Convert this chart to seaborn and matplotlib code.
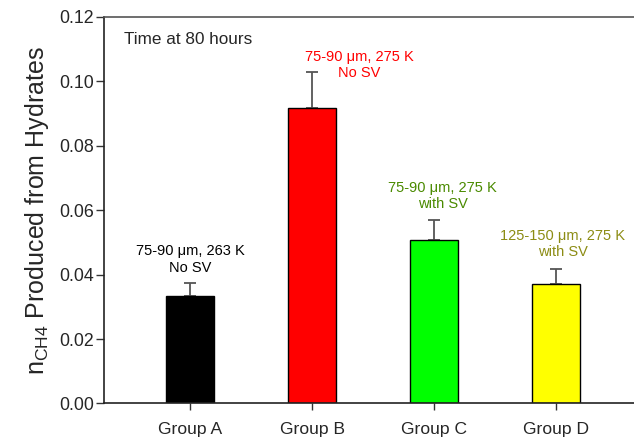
import matplotlib
matplotlib.use("Agg")
import matplotlib.pyplot as plt
import seaborn as sns
import pandas as pd

# Methane produced from hydrates after 80 hours, four experimental groups
groups = ["Group A", "Group B", "Group C", "Group D"]
n_ch4 = [0.0333, 0.0917, 0.0507, 0.0372]
err_upper = [0.0040, 0.0113, 0.0063, 0.0046]
bar_colors = ["#000000", "#FF0000", "#00FF00", "#FFFF00"]
notes = ["75-90 \u03bcm, 263 K\nNo SV",
         "75-90 \u03bcm, 275 K\nNo SV",
         "75-90 \u03bcm, 275 K\nwith SV",
         "125-150 \u03bcm, 275 K\nwith SV"]
note_colors = ["#000000", "#FF0000", "#4A8A00", "#8C8C14"]
note_x = [0.0, 1.385, 2.07, 3.053]
note_y = [0.0447, 0.1051, 0.0643, 0.0495]
y_ticks = [0.00, 0.02, 0.04, 0.06, 0.08, 0.10, 0.12]

sns.set_style("ticks")
plt.rcParams["font.family"] = ["Liberation Sans", "DejaVu Sans"]
plt.rcParams["mathtext.default"] = "regular"

df = pd.DataFrame({"group": groups, "n": n_ch4})

fig = plt.figure(figsize=(6.34, 4.37), dpi=100)
ax = fig.add_axes([0.1648, 0.0767, 1.0 - 0.1648, 0.9611 - 0.0767])

sns.barplot(data=df, x="group", y="n", hue="group", palette=bar_colors,
            saturation=1, legend=False, width=0.4, edgecolor="black",
            linewidth=1.0, errorbar=None, ax=ax, zorder=2)

# upper-only error bars, drawn beneath the bars so no lower cap shows
ax.errorbar(range(len(groups)), n_ch4, yerr=[[0] * len(groups), err_upper],
            fmt="none", ecolor="#555555", elinewidth=1.3, capsize=4.5,
            capthick=1.3, zorder=1)

for x, y, t, c in zip(note_x, note_y, notes, note_colors):
    ax.text(x, y, t, color=c, ha="center", va="center", fontsize=10.5,
            linespacing=1.2)

ax.text(0.037, 0.941, "Time at 80 hours", transform=ax.transAxes,
        ha="left", va="center", fontsize=12.3)

ax.set_xlim(-0.701, 3.639)
ax.set_ylim(0, 0.12)
ax.set_yticks(y_ticks)
ax.set_yticklabels([f"{v:.2f}" for v in y_ticks])
ax.set_xlabel("")
ax.set_ylabel("n$_{CH4}$ Produced from Hydrates", fontsize=18, labelpad=6)

ax.tick_params(axis="y", direction="out", length=6, width=1.0,
               labelsize=12.8, pad=1.5, color="#333333")
ax.tick_params(axis="x", direction="out", length=5, width=1.0,
               labelsize=12.6, pad=8, color="#333333")

for side in ("left", "bottom"):
    ax.spines[side].set_color("#222222")
    ax.spines[side].set_linewidth(1.2)
ax.spines["top"].set_visible(True)
ax.spines["top"].set_color("#555555")
ax.spines["top"].set_linewidth(1.2)
ax.spines["right"].set_visible(False)

fig.savefig("out.png", dpi=100)
